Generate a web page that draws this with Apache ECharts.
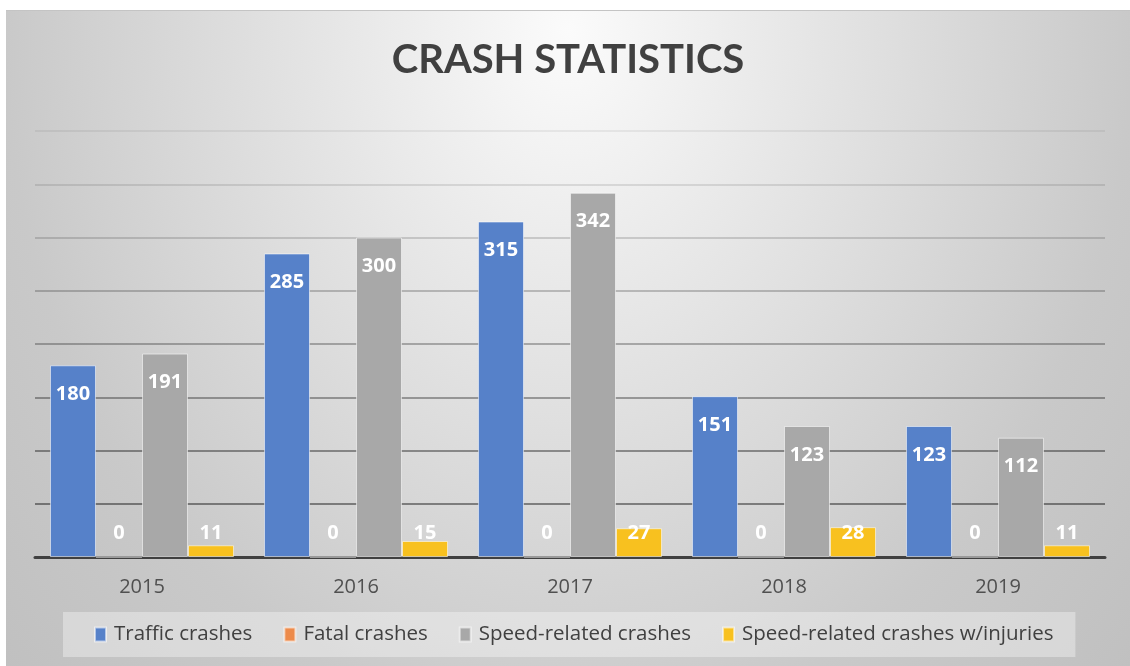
<!DOCTYPE html>
<html>
<head>
<meta charset="utf-8">
<script src="https://cdn.jsdelivr.net/npm/echarts@6/dist/echarts.min.js"></script>
<style>
	html, body { margin: 0; padding: 0; background: #fff; }
	#main { position: absolute; left: 6px; top: 10px; width: 1124px; height: 656px; border-top: 1px solid #c4c4c4; box-sizing: border-box; }
</style>
</head>
<body>
<div id="main"></div>
<script>
	"use strict";
	// DATA
	var years = ['2015', '2016', '2017', '2018', '2019'];
	var traffic = [180, 285, 315, 151, 123];
	var fatal = [0, 0, 0, 0, 0];
	var speed = [191, 300, 342, 123, 112];
	var speedInjuries = [11, 15, 27, 28, 11];
	var seriesNames = ['Traffic crashes', 'Fatal crashes', 'Speed-related crashes', 'Speed-related crashes w/injuries'];

	var font = 'Open Sans';

	// short bars get their label near the axis, tall ones inside the top
	function withLabels(vals) {
		return vals.map(function(v) {
			return {
				value: v,
				label: v < 50 ? { position: 'insideBottom', distance: 14 } : { position: 'insideTop', distance: 19 }
			};
		});
	}

	function barSeries(name, vals, color) {
		return {
			name: name,
			type: 'bar',
			barGap: 0,
			barCategoryGap: '14%',
			data: withLabels(vals),
			itemStyle: {
				color: color,
				borderColor: 'rgba(255,255,255,0.55)',
				borderWidth: 1
			},
			label: {
				show: true,
				color: '#fff',
				fontFamily: font,
				fontWeight: 'bold',
				fontSize: 20
			}
		};
	}

	var chart = echarts.init(document.getElementById('main'));
	var option = {
		backgroundColor: '#fff',
		graphic: [{
			type: 'rect',
			z: -100,
			silent: true,
			x: 0,
			y: 0,
			scaleY: 1.25,
			shape: { x: 0, y: 0, width: 1124, height: 525 },
			style: {
				fill: {
					type: 'radial',
					x: 0.5,
					y: 0.03,
					r: 1.45,
					colorStops: [
						{ offset: 0, color: '#fbfbfb' },
						{ offset: 0.74, color: '#c9c9c9' },
						{ offset: 1, color: '#c0c0c0' }
					]
				}
			}
		}],
		title: {
			text: 'CRASH STATISTICS',
			left: 'center',
			top: 24,
			textStyle: {
				fontFamily: 'Lato',
				fontWeight: 'bold',
				fontSize: 40,
				color: '#404040'
			}
		},
		grid: {
			left: 29,
			right: 25,
			top: 120,
			bottom: 109
		},
		legend: {
			left: 57,
			top: 601,
			data: seriesNames,
			icon: 'rect',
			backgroundColor: 'rgba(255,255,255,0.35)',
			padding: [12, 22, 12, 31],
			itemGap: 31,
			itemWidth: 11,
			itemHeight: 14,
			textStyle: {
				fontFamily: font,
				fontSize: 20.5,
				color: '#404040',
				padding: [0, 0, 0, 3]
			}
		},
		xAxis: {
			type: 'category',
			data: years,
			axisTick: { show: false },
			axisLine: { lineStyle: { color: '#404040', width: 3 } },
			axisLabel: {
				fontFamily: font,
				fontSize: 20,
				color: '#505050',
				margin: 20
			}
		},
		yAxis: {
			type: 'value',
			min: 0,
			max: 400,
			interval: 50,
			axisLabel: { show: false },
			axisLine: { show: false },
			axisTick: { show: false },
			splitLine: {
				lineStyle: {
					width: 2,
					color: ['rgba(0,0,0,0.45)', 'rgba(0,0,0,0.42)', 'rgba(0,0,0,0.38)', 'rgba(0,0,0,0.33)',
						'rgba(0,0,0,0.27)', 'rgba(0,0,0,0.21)', 'rgba(0,0,0,0.15)', 'rgba(0,0,0,0.1)', 'rgba(0,0,0,0.06)']
				}
			}
		},
		series: [
			barSeries(seriesNames[0], traffic, '#5681c9'),
			barSeries(seriesNames[1], fatal, '#ed8b4b'),
			barSeries(seriesNames[2], speed, '#a8a8a8'),
			barSeries(seriesNames[3], speedInjuries, '#f8c11f')
		]
	};
	chart.setOption(option);
</script>
</body>
</html>
